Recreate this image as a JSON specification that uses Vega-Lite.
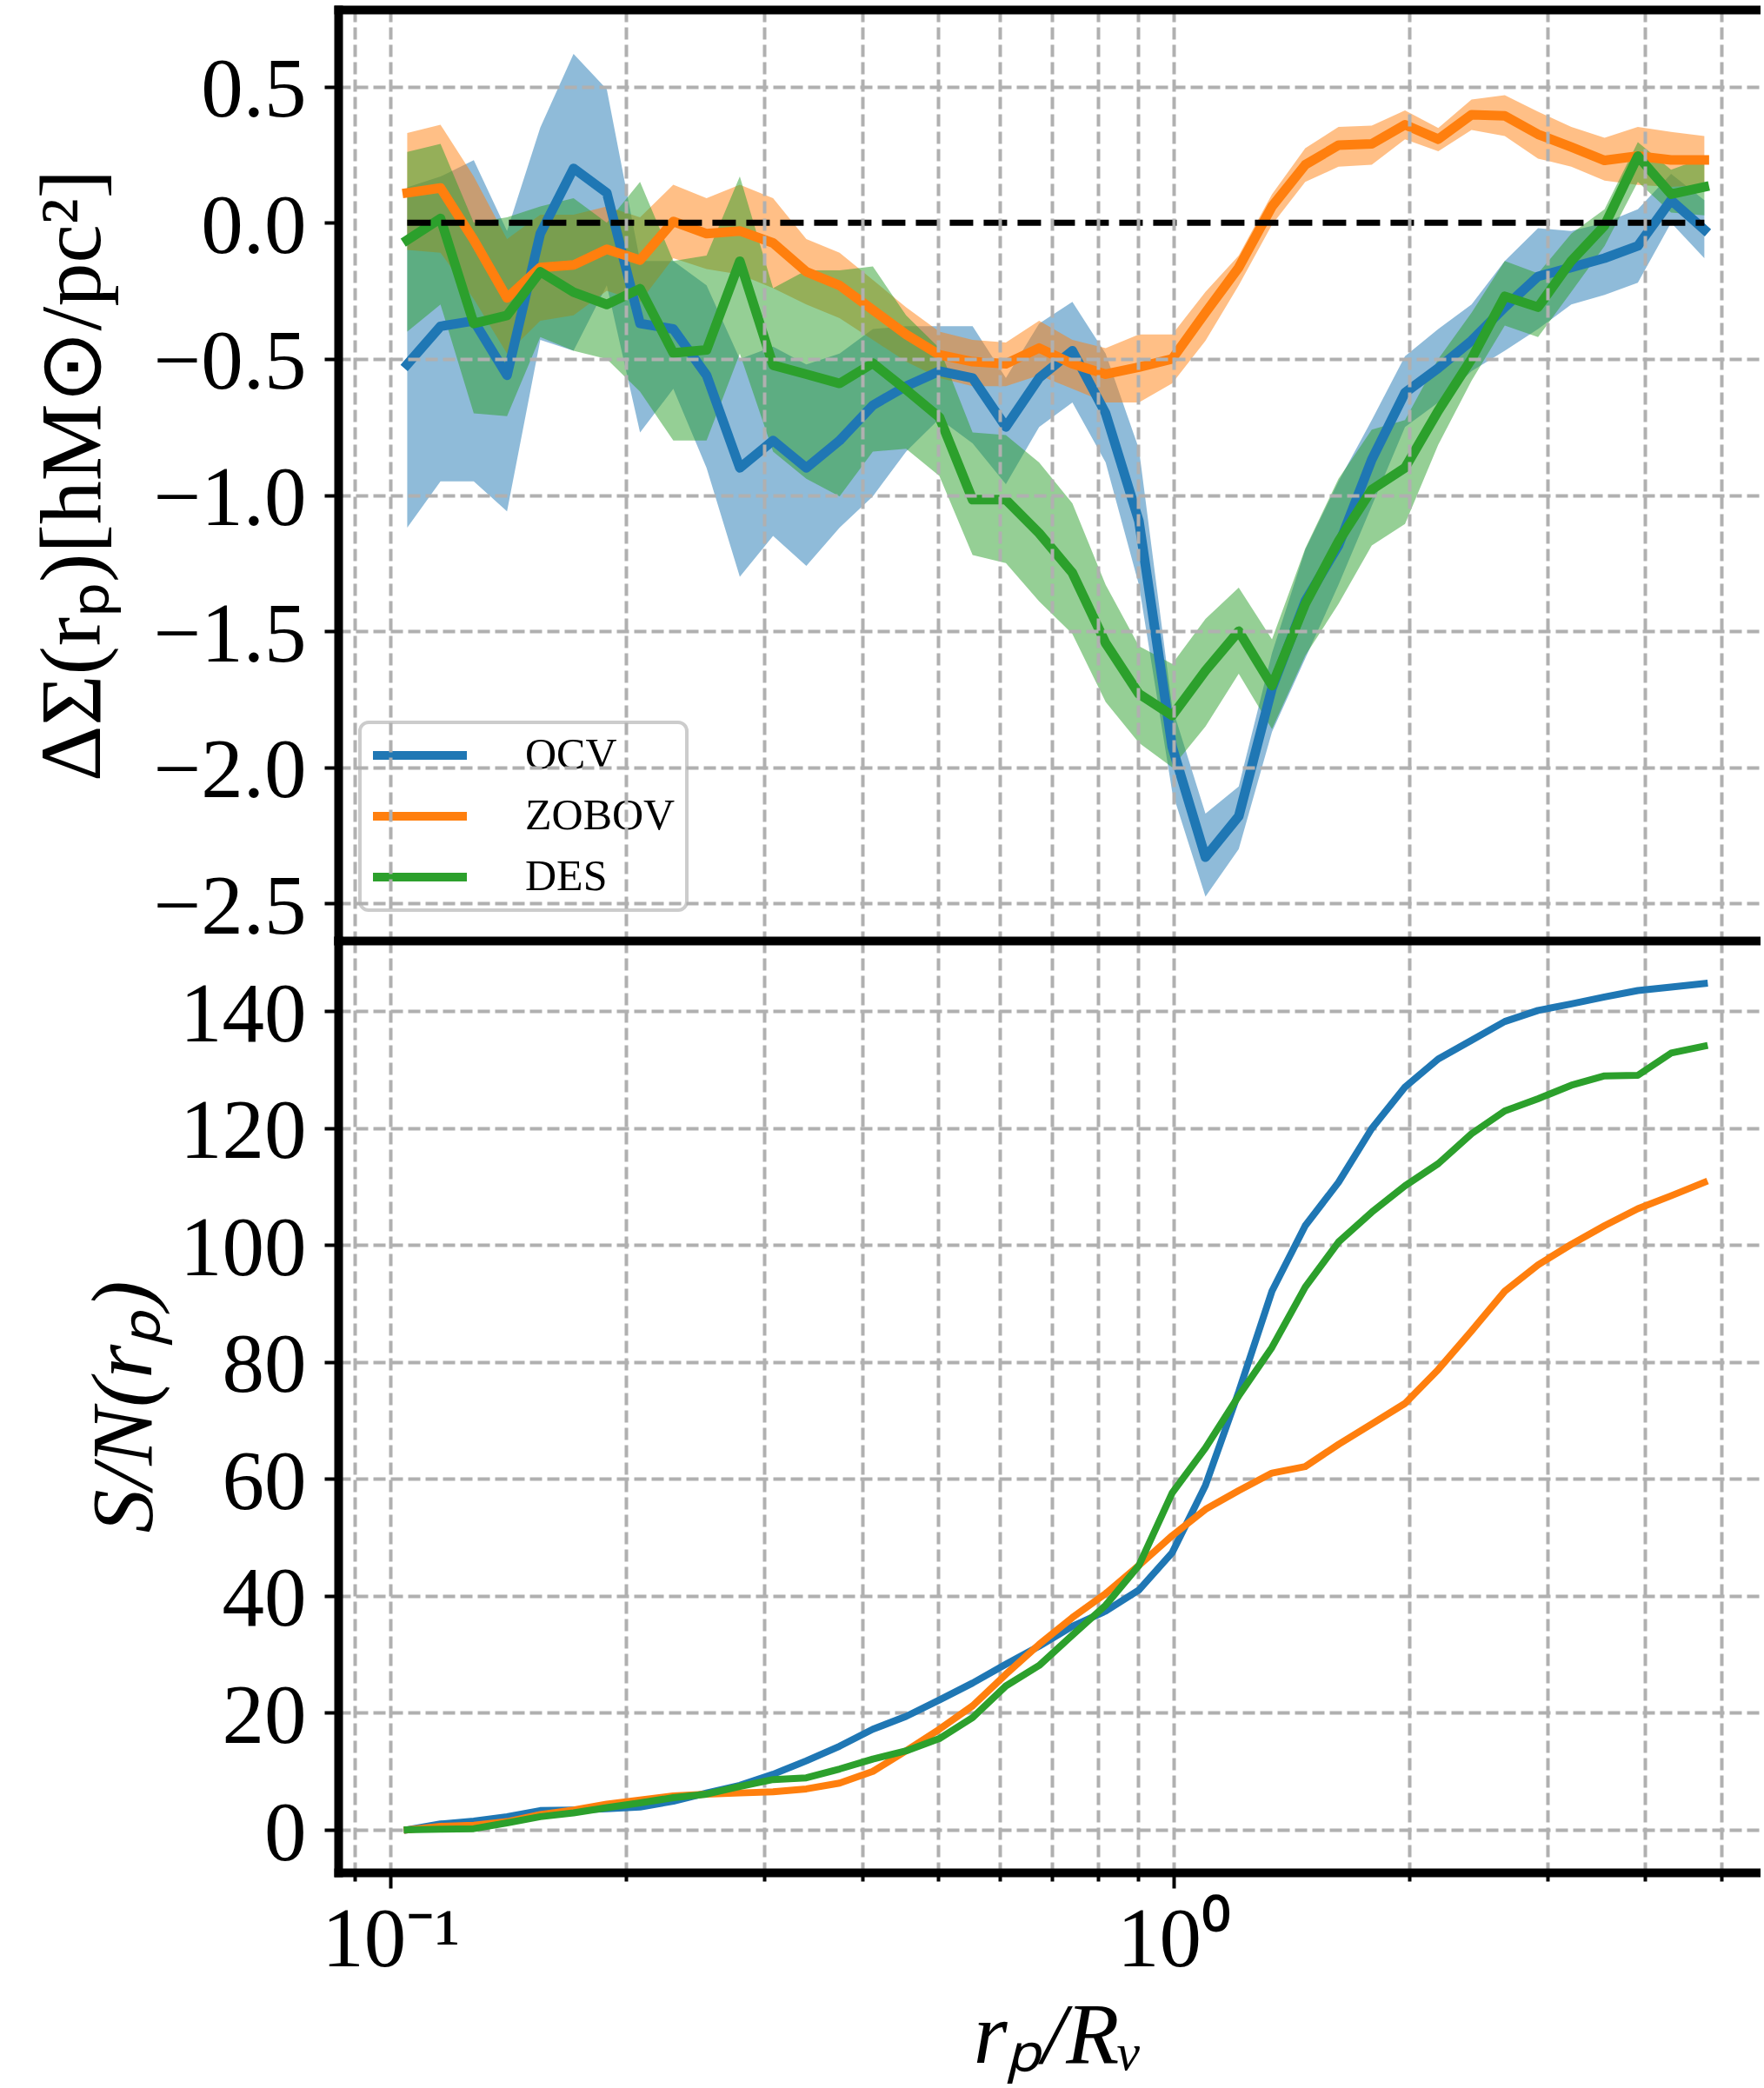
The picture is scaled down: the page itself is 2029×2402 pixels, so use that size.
{
"$schema": "https://vega.github.io/schema/vega-lite/v6.json",
"background": "white",
"padding": {"left": 34, "top": 11, "right": 0, "bottom": 6},
"autosize": {"type": "pad"},
"bounds": "flush",
"spacing": 0,
"config": {
  "font": "Liberation Serif",
  "view": {"stroke": null},
  "legend": {"strokeWidth": 4},
  "axis": {"domainColor": "black", "domainWidth": 10, "domainCap": "square", "tickColor": "black", "tickWidth": 4,
    "gridColor": "#b0b0b0", "gridWidth": 4, "gridDash": [14, 6], "labelFont": "Liberation Serif", "titleFont": "Liberation Serif",
    "labelColor": "black", "titleColor": "black", "titleFontWeight": "normal", "labelFlush": false, "labelOverlap": false}
},
"resolve": {"scale": {"color": "independent", "fill": "independent", "stroke": "independent"}, "legend": {"color": "independent", "fill": "independent", "stroke": "independent"}},
"datasets": {"d": [
{"m":"OCV","r":0.10501,"ds":-0.52,"lo":-1.12,"hi":0.13,"sn":0},
{"m":"OCV","r":0.1158,"ds":-0.38,"lo":-0.95,"hi":0.17,"sn":1.0},
{"m":"OCV","r":0.1277,"ds":-0.36,"lo":-0.95,"hi":0.23,"sn":1.5},
{"m":"OCV","r":0.14082,"ds":-0.56,"lo":-1.06,"hi":-0.03,"sn":2.25},
{"m":"OCV","r":0.15529,"ds":-0.04,"lo":-0.43,"hi":0.35,"sn":3.3},
{"m":"OCV","r":0.17124,"ds":0.20,"lo":-0.47,"hi":0.62,"sn":3.4},
{"m":"OCV","r":0.18883,"ds":0.11,"lo":-0.23,"hi":0.49,"sn":3.6},
{"m":"OCV","r":0.20823,"ds":-0.37,"lo":-0.77,"hi":-0.14,"sn":3.9},
{"m":"OCV","r":0.22962,"ds":-0.39,"lo":-0.61,"hi":-0.14,"sn":4.9},
{"m":"OCV","r":0.25321,"ds":-0.56,"lo":-0.90,"hi":-0.23,"sn":6.3},
{"m":"OCV","r":0.27922,"ds":-0.90,"lo":-1.30,"hi":-0.50,"sn":7.6},
{"m":"OCV","r":0.30791,"ds":-0.80,"lo":-1.15,"hi":-0.455,"sn":9.5},
{"m":"OCV","r":0.33954,"ds":-0.90,"lo":-1.26,"hi":-0.52,"sn":11.8},
{"m":"OCV","r":0.37442,"ds":-0.80,"lo":-1.12,"hi":-0.48,"sn":14.3},
{"m":"OCV","r":0.41289,"ds":-0.67,"lo":-1.005,"hi":-0.39,"sn":17.2},
{"m":"OCV","r":0.4553,"ds":-0.60,"lo":-0.84,"hi":-0.38,"sn":19.4},
{"m":"OCV","r":0.50208,"ds":-0.545,"lo":-0.72,"hi":-0.38,"sn":22.2},
{"m":"OCV","r":0.55365,"ds":-0.57,"lo":-0.81,"hi":-0.38,"sn":25.1},
{"m":"OCV","r":0.61054,"ds":-0.75,"lo":-0.96,"hi":-0.57,"sn":28.3},
{"m":"OCV","r":0.67325,"ds":-0.57,"lo":-0.75,"hi":-0.37,"sn":31.4},
{"m":"OCV","r":0.74242,"ds":-0.47,"lo":-0.66,"hi":-0.29,"sn":34.8},
{"m":"OCV","r":0.81869,"ds":-0.70,"lo":-0.88,"hi":-0.48,"sn":37.4},
{"m":"OCV","r":0.90279,"ds":-1.095,"lo":-1.33,"hi":-0.83,"sn":41.0},
{"m":"OCV","r":0.99572,"ds":-1.925,"lo":-2.09,"hi":-1.78,"sn":47.4},
{"m":"OCV","r":1.09803,"ds":-2.33,"lo":-2.475,"hi":-2.17,"sn":58.9},
{"m":"OCV","r":1.21083,"ds":-2.18,"lo":-2.30,"hi":-2.07,"sn":74.9},
{"m":"OCV","r":1.33522,"ds":-1.71,"lo":-1.87,"hi":-1.58,"sn":92.1},
{"m":"OCV","r":1.47238,"ds":-1.39,"lo":-1.60,"hi":-1.20,"sn":103.3},
{"m":"OCV","r":1.62366,"ds":-1.185,"lo":-1.33,"hi":-0.95,"sn":110.7},
{"m":"OCV","r":1.79047,"ds":-0.87,"lo":-1.04,"hi":-0.725,"sn":119.9},
{"m":"OCV","r":1.97439,"ds":-0.624,"lo":-0.75,"hi":-0.49,"sn":127.0},
{"m":"OCV","r":2.17721,"ds":-0.534,"lo":-0.66,"hi":-0.39,"sn":131.8},
{"m":"OCV","r":2.40093,"ds":-0.433,"lo":-0.545,"hi":-0.30,"sn":135.0},
{"m":"OCV","r":2.64757,"ds":-0.31,"lo":-0.47,"hi":-0.14,"sn":138.2},
{"m":"OCV","r":2.91959,"ds":-0.197,"lo":-0.39,"hi":-0.02,"sn":140.1},
{"m":"OCV","r":3.21951,"ds":-0.164,"lo":-0.30,"hi":-0.03,"sn":141.2},
{"m":"OCV","r":3.55024,"ds":-0.13,"lo":-0.265,"hi":0.0,"sn":142.4},
{"m":"OCV","r":3.91509,"ds":-0.085,"lo":-0.22,"hi":0.05,"sn":143.5},
{"m":"OCV","r":4.31727,"ds":0.083,"lo":0.0,"hi":0.18,"sn":144.1},
{"m":"OCV","r":4.76074,"ds":-0.025,"lo":-0.13,"hi":0.083,"sn":144.7},
{"m":"ZOBOV","r":0.10501,"ds":0.11,"lo":-0.10,"hi":0.33,"sn":0},
{"m":"ZOBOV","r":0.1158,"ds":0.128,"lo":-0.11,"hi":0.36,"sn":0.6},
{"m":"ZOBOV","r":0.1277,"ds":-0.063,"lo":-0.28,"hi":0.17,"sn":0.8},
{"m":"ZOBOV","r":0.14082,"ds":-0.276,"lo":-0.48,"hi":-0.06,"sn":1.4},
{"m":"ZOBOV","r":0.15529,"ds":-0.164,"lo":-0.36,"hi":0.03,"sn":2.6},
{"m":"ZOBOV","r":0.17124,"ds":-0.155,"lo":-0.34,"hi":0.03,"sn":3.4},
{"m":"ZOBOV","r":0.18883,"ds":-0.097,"lo":-0.25,"hi":0.06,"sn":4.4},
{"m":"ZOBOV","r":0.20823,"ds":-0.137,"lo":-0.29,"hi":0.02,"sn":5.1},
{"m":"ZOBOV","r":0.22962,"ds":0.005,"lo":-0.13,"hi":0.14,"sn":5.8},
{"m":"ZOBOV","r":0.25321,"ds":-0.04,"lo":-0.17,"hi":0.09,"sn":6.1},
{"m":"ZOBOV","r":0.27922,"ds":-0.03,"lo":-0.19,"hi":0.14,"sn":6.3},
{"m":"ZOBOV","r":0.30791,"ds":-0.074,"lo":-0.24,"hi":0.09,"sn":6.5},
{"m":"ZOBOV","r":0.33954,"ds":-0.18,"lo":-0.30,"hi":-0.06,"sn":7.0},
{"m":"ZOBOV","r":0.37442,"ds":-0.23,"lo":-0.35,"hi":-0.11,"sn":8.0},
{"m":"ZOBOV","r":0.41289,"ds":-0.32,"lo":-0.43,"hi":-0.21,"sn":10.0},
{"m":"ZOBOV","r":0.4553,"ds":-0.41,"lo":-0.51,"hi":-0.31,"sn":13.5},
{"m":"ZOBOV","r":0.50208,"ds":-0.485,"lo":-0.57,"hi":-0.40,"sn":17.2},
{"m":"ZOBOV","r":0.55365,"ds":-0.51,"lo":-0.60,"hi":-0.43,"sn":21.2},
{"m":"ZOBOV","r":0.61054,"ds":-0.518,"lo":-0.60,"hi":-0.44,"sn":26.6},
{"m":"ZOBOV","r":0.67325,"ds":-0.46,"lo":-0.56,"hi":-0.36,"sn":31.7},
{"m":"ZOBOV","r":0.74242,"ds":-0.518,"lo":-0.61,"hi":-0.43,"sn":36.3},
{"m":"ZOBOV","r":0.81869,"ds":-0.556,"lo":-0.66,"hi":-0.46,"sn":40.4},
{"m":"ZOBOV","r":0.90279,"ds":-0.53,"lo":-0.66,"hi":-0.41,"sn":45.2},
{"m":"ZOBOV","r":0.99572,"ds":-0.50,"lo":-0.59,"hi":-0.41,"sn":50.3},
{"m":"ZOBOV","r":1.09803,"ds":-0.33,"lo":-0.433,"hi":-0.254,"sn":54.8},
{"m":"ZOBOV","r":1.21083,"ds":-0.164,"lo":-0.23,"hi":-0.12,"sn":58.0},
{"m":"ZOBOV","r":1.33522,"ds":0.06,"lo":-0.007,"hi":0.105,"sn":61.0},
{"m":"ZOBOV","r":1.47238,"ds":0.213,"lo":0.15,"hi":0.274,"sn":62.1},
{"m":"ZOBOV","r":1.62366,"ds":0.285,"lo":0.206,"hi":0.352,"sn":65.9},
{"m":"ZOBOV","r":1.79047,"ds":0.29,"lo":0.213,"hi":0.357,"sn":69.4},
{"m":"ZOBOV","r":1.97439,"ds":0.36,"lo":0.307,"hi":0.413,"sn":72.9},
{"m":"ZOBOV","r":2.17721,"ds":0.307,"lo":0.263,"hi":0.348,"sn":78.7},
{"m":"ZOBOV","r":2.40093,"ds":0.397,"lo":0.341,"hi":0.453,"sn":85.3},
{"m":"ZOBOV","r":2.64757,"ds":0.393,"lo":0.319,"hi":0.469,"sn":92.1},
{"m":"ZOBOV","r":2.91959,"ds":0.325,"lo":0.236,"hi":0.408,"sn":96.6},
{"m":"ZOBOV","r":3.21951,"ds":0.278,"lo":0.206,"hi":0.352,"sn":100.1},
{"m":"ZOBOV","r":3.55024,"ds":0.229,"lo":0.155,"hi":0.312,"sn":103.3},
{"m":"ZOBOV","r":3.91509,"ds":0.245,"lo":0.139,"hi":0.352,"sn":106.2},
{"m":"ZOBOV","r":4.31727,"ds":0.231,"lo":0.132,"hi":0.334,"sn":108.4},
{"m":"ZOBOV","r":4.76074,"ds":0.231,"lo":0.139,"hi":0.319,"sn":110.7},
{"m":"DES","r":0.10501,"ds":-0.063,"lo":-0.40,"hi":0.26,"sn":0},
{"m":"DES","r":0.1158,"ds":0.016,"lo":-0.30,"hi":0.29,"sn":0.1},
{"m":"DES","r":0.1277,"ds":-0.37,"lo":-0.70,"hi":0.0,"sn":0.2},
{"m":"DES","r":0.14082,"ds":-0.34,"lo":-0.71,"hi":0.02,"sn":1.2},
{"m":"DES","r":0.15529,"ds":-0.18,"lo":-0.42,"hi":0.06,"sn":2.25},
{"m":"DES","r":0.17124,"ds":-0.255,"lo":-0.47,"hi":0.09,"sn":2.9},
{"m":"DES","r":0.18883,"ds":-0.30,"lo":-0.50,"hi":0.0,"sn":3.8},
{"m":"DES","r":0.20823,"ds":-0.242,"lo":-0.62,"hi":0.15,"sn":4.6},
{"m":"DES","r":0.22962,"ds":-0.478,"lo":-0.80,"hi":-0.14,"sn":5.5},
{"m":"DES","r":0.25321,"ds":-0.467,"lo":-0.80,"hi":-0.12,"sn":6.1},
{"m":"DES","r":0.27922,"ds":-0.141,"lo":-0.48,"hi":0.17,"sn":7.4},
{"m":"DES","r":0.30791,"ds":-0.523,"lo":-0.84,"hi":-0.24,"sn":8.6},
{"m":"DES","r":0.33954,"ds":-0.556,"lo":-0.94,"hi":-0.175,"sn":8.9},
{"m":"DES","r":0.37442,"ds":-0.59,"lo":-1.005,"hi":-0.175,"sn":10.4},
{"m":"DES","r":0.41289,"ds":-0.516,"lo":-0.84,"hi":-0.16,"sn":12.1},
{"m":"DES","r":0.4553,"ds":-0.613,"lo":-0.83,"hi":-0.34,"sn":13.5},
{"m":"DES","r":0.50208,"ds":-0.714,"lo":-0.93,"hi":-0.46,"sn":15.6},
{"m":"DES","r":0.55365,"ds":-1.017,"lo":-1.22,"hi":-0.77,"sn":19.2},
{"m":"DES","r":0.61054,"ds":-1.017,"lo":-1.25,"hi":-0.78,"sn":24.6},
{"m":"DES","r":0.67325,"ds":-1.14,"lo":-1.39,"hi":-0.88,"sn":28.1},
{"m":"DES","r":0.74242,"ds":-1.286,"lo":-1.51,"hi":-1.03,"sn":33.3},
{"m":"DES","r":0.81869,"ds":-1.544,"lo":-1.76,"hi":-1.33,"sn":38.4},
{"m":"DES","r":0.90279,"ds":-1.73,"lo":-1.91,"hi":-1.555,"sn":45.2},
{"m":"DES","r":0.99572,"ds":-1.81,"lo":-2.0,"hi":-1.62,"sn":57.6},
{"m":"DES","r":1.09803,"ds":-1.645,"lo":-1.85,"hi":-1.455,"sn":65.3},
{"m":"DES","r":1.21083,"ds":-1.50,"lo":-1.656,"hi":-1.34,"sn":74.2},
{"m":"DES","r":1.33522,"ds":-1.70,"lo":-1.86,"hi":-1.53,"sn":82.5},
{"m":"DES","r":1.47238,"ds":-1.40,"lo":-1.59,"hi":-1.196,"sn":92.8},
{"m":"DES","r":1.62366,"ds":-1.17,"lo":-1.40,"hi":-0.94,"sn":100.5},
{"m":"DES","r":1.79047,"ds":-0.98,"lo":-1.185,"hi":-0.76,"sn":105.6},
{"m":"DES","r":1.97439,"ds":-0.90,"lo":-1.106,"hi":-0.725,"sn":110.1},
{"m":"DES","r":2.17721,"ds":-0.69,"lo":-0.815,"hi":-0.50,"sn":113.9},
{"m":"DES","r":2.40093,"ds":-0.50,"lo":-0.58,"hi":-0.33,"sn":119.0},
{"m":"DES","r":2.64757,"ds":-0.27,"lo":-0.377,"hi":-0.14,"sn":122.9},
{"m":"DES","r":2.91959,"ds":-0.31,"lo":-0.42,"hi":-0.186,"sn":125.0},
{"m":"DES","r":3.21951,"ds":-0.14,"lo":-0.254,"hi":-0.04,"sn":127.3},
{"m":"DES","r":3.55024,"ds":-0.01,"lo":-0.085,"hi":0.05,"sn":128.9},
{"m":"DES","r":3.91509,"ds":0.245,"lo":0.15,"hi":0.296,"sn":129.0},
{"m":"DES","r":4.31727,"ds":0.105,"lo":0.038,"hi":0.195,"sn":132.8},
{"m":"DES","r":4.76074,"ds":0.132,"lo":0.027,"hi":0.24,"sn":134.0}
]},
"vconcat": [
{
  "width": 1636, "height": 1071,
  "data": {"name": "d"},
  "resolve": {"axis": {"x": "independent", "y": "independent"}},
  "layer": [
    {
      "mark": {"type": "area", "opacity": 0.5},
      "encoding": {
        "x": {"field": "r", "type": "quantitative", "scale": {"type": "log", "domain": [0.085715, 5.616], "nice": false},
          "axis": {"orient": "bottom", "values": [0.09,0.1,0.2,0.3,0.4,0.5,0.6,0.7,0.8,0.9,1,2,3,4,5], "labels": false, "ticks": false, "domain": false, "grid": true, "title": null, "zindex": 1}},
        "y": {"field": "lo", "type": "quantitative", "scale": {"domain": [-2.6363, 0.7832], "nice": false, "zero": false},
          "axis": {"values": [-2.5,-2,-1.5,-1,-0.5,0,0.5], "format": ".1f", "labelFont": "Liberation Serif", "labelFontSize": 97, "labelPadding": 21, "tickSize": 16, "labelOffset": 5,
            "labelAlign": "right", "labelBaseline": "middle", "grid": true, "zindex": 1,
            "gridOpacity": {"condition": {"test": "datum.value == 0", "value": 0}, "value": 1},
            "title": "ΔΣ(rₚ)[hM⊙/pc²]", "titleFont": "Liberation Serif", "titleFontSize": 100, "titleX": -354, "titleBaseline": "top", "titleAngle": -90}},
        "y2": {"field": "hi"},
        "fill": {"field": "m", "type": "nominal", "scale": {"domain": ["DES","OCV","ZOBOV"], "range": ["#2ca02c","#1f77b4","#ff7f0e"]}, "legend": null}
      }
    },
    {
      "mark": {"type": "line", "strokeWidth": 11, "strokeCap": "square", "strokeJoin": "round"},
      "encoding": {
        "x": {"field": "r", "type": "quantitative", "scale": {"type": "log", "domain": [0.085715, 5.616], "nice": false},
          "axis": {"orient": "top", "labels": false, "ticks": false, "grid": false, "domain": true, "title": null, "zindex": 1}},
        "y": {"field": "ds", "type": "quantitative", "scale": {"domain": [-2.6363, 0.7832], "nice": false, "zero": false}, "axis": null},
        "color": {"field": "m", "type": "nominal", "scale": {"domain": ["OCV","ZOBOV","DES"], "range": ["#1f77b4","#ff7f0e","#2ca02c"]},
          "legend": {"orient": "none", "legendX": 25, "legendY": 820, "title": null, "symbolType": "M-4.5,0H4.5", "symbolStrokeWidth": 10, "symbolSize": 576, "symbolOffset": 31,
            "labelFont": "Liberation Serif", "labelFontSize": 50, "labelOffset": 96, "labelLimit": 0, "labelColor": "black", "rowPadding": 20, "padding": 13,
            "fillColor": "rgba(255,255,255,0.8)", "strokeColor": "#cccccc", "cornerRadius": 10}}
      }
    },
    {
      "data": {"values": [{}]},
      "mark": {"type": "rule", "color": "black", "strokeWidth": 7, "strokeDash": [27, 12]},
      "encoding": {
        "x": {"datum": 0.10501, "type": "quantitative", "scale": {"type": "log", "domain": [0.085715, 5.616], "nice": false}, "axis": null},
        "x2": {"datum": 4.76074},
        "y": {"datum": 0, "type": "quantitative", "scale": {"domain": [-2.6363, 0.7832], "nice": false, "zero": false}, "axis": null}
      }
    }
  ]
},
{
  "width": 1636, "height": 1072,
  "data": {"name": "d"},
  "resolve": {"axis": {"x": "independent", "y": "independent"}},
  "layer": [
    {
      "mark": {"type": "line", "strokeWidth": 8, "strokeCap": "square", "strokeJoin": "round"},
      "encoding": {
        "x": {"field": "r", "type": "quantitative", "scale": {"type": "log", "domain": [0.085715, 5.616], "nice": false},
          "axis": {"orient": "bottom", "values": [0.09,0.1,0.2,0.3,0.4,0.5,0.6,0.7,0.8,0.9,1,2,3,4,5],
            "labelExpr": "datum.value == 0.1 ? '10⁻¹' : (datum.value == 1 ? '10⁰' : '')",
            "labelFont": "Liberation Serif", "labelFontSize": 97, "labelPadding": 12, "labelBaseline": "top", "labelAlign": "center",
            "tickSize": {"condition": {"test": "datum.value == 0.1 || datum.value == 1", "value": 18}, "value": 10},
            "grid": true, "domain": true,
            "title": "rₚ/Rᵥ", "titleFont": "Liberation Serif", "titleFontSize": 100, "titleFontStyle": "italic", "titleX": 828, "titleY": 218, "titleBaseline": "alphabetic"}},
        "y": {"field": "sn", "type": "quantitative", "scale": {"domain": [-7.28, 152.04], "nice": false, "zero": false},
          "axis": {"values": [0,20,40,60,80,100,120,140], "labelFont": "Liberation Serif", "labelFontSize": 97, "labelPadding": 21, "tickSize": 16, "labelOffset": 5,
            "labelAlign": "right", "labelBaseline": "middle", "grid": true,
            "title": "S/N(rₚ)", "titleFont": "Liberation Serif", "titleFontSize": 100, "titleFontStyle": "italic", "titleX": -295, "titleBaseline": "top", "titleAngle": -90}},
        "stroke": {"field": "m", "type": "nominal", "scale": {"domain": ["OCV","ZOBOV","DES"], "range": ["#1f77b4","#ff7f0e","#2ca02c"]}, "legend": null}
      }
    },
    {
      "data": {"values": [{}]},
      "mark": {"type": "rule", "opacity": 0},
      "encoding": {
        "x": {"datum": 1, "type": "quantitative", "scale": {"type": "log", "domain": [0.085715, 5.616], "nice": false},
          "axis": {"orient": "top", "labels": false, "ticks": false, "grid": false, "domain": true, "title": null}}
      }
    }
  ]
}
]
}
